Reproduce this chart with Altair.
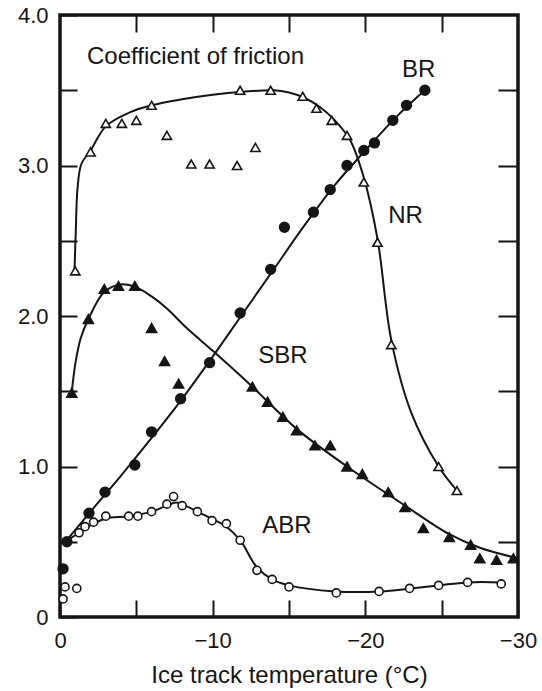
import altair as alt
import pandas as pd

# ---------------- data ----------------
# NR (open triangles)
nr_t = [-1.0, -2.0, -3.0, -4.05, -5.0, -6.0, -7.0, -8.6, -9.8, -11.6, -12.8,
        -11.8, -13.8, -15.9, -16.8, -17.8, -18.8, -19.9, -20.8, -21.7, -24.8, -26.0]
nr_mu = [2.30, 3.09, 3.28, 3.28, 3.30, 3.40, 3.20, 3.01, 3.01, 3.00, 3.12,
         3.50, 3.50, 3.46, 3.38, 3.30, 3.20, 2.89, 2.49, 1.81, 1.00, 0.84]
nr_curve_t = [-0.95, -1.03, -1.15, -1.4, -2.0, -3.0, -4.5, -6.0, -8.0, -10.0, -12.0,
              -14.0, -15.0, -16.0, -17.0, -18.0, -19.0, -19.9, -20.8, -21.7, -23.0,
              -24.8, -26.0]
nr_curve_mu = [2.30, 2.55, 2.85, 3.01, 3.10, 3.26, 3.35, 3.40, 3.44, 3.47, 3.49,
               3.50, 3.485, 3.45, 3.39, 3.30, 3.17, 2.92, 2.51, 1.84, 1.36,
               1.00, 0.84]

# BR (filled circles)
br_t = [-0.2, -0.45, -1.9, -2.95, -4.9, -6.0, -7.9, -9.8, -11.8, -13.8, -14.7,
        -16.6, -17.7, -18.8, -19.9, -20.6, -21.8, -22.7, -23.9]
br_mu = [0.32, 0.50, 0.69, 0.83, 1.01, 1.23, 1.45, 1.69, 2.02, 2.31, 2.59,
         2.69, 2.84, 3.00, 3.10, 3.15, 3.30, 3.40, 3.50]
br_curve_t = [-0.2, -2.0, -4.0, -6.0, -8.0, -10.0, -12.0, -14.0, -16.0, -18.0,
              -20.0, -22.0, -24.0]
br_curve_mu = [0.48, 0.70, 0.94, 1.19, 1.45, 1.73, 2.02, 2.31, 2.60, 2.87,
               3.10, 3.32, 3.51]

# SBR (filled triangles)
sbr_t = [-0.77, -1.86, -2.9, -3.83, -4.9, -6.0, -6.85, -7.77, -12.6, -13.6, -14.6,
         -15.5, -16.7, -17.7, -18.8, -19.8, -21.5, -22.6, -23.8, -25.5, -26.9,
         -27.5, -28.6, -29.7]
sbr_mu = [1.49, 1.98, 2.18, 2.20, 2.20, 1.92, 1.70, 1.55, 1.53, 1.43, 1.33,
          1.24, 1.14, 1.14, 1.00, 0.95, 0.83, 0.73, 0.59, 0.53, 0.48,
          0.39, 0.38, 0.39]
sbr_curve_t = [-0.77, -1.0, -1.35, -1.86, -2.9, -4.0, -5.0, -6.0, -7.0, -8.3, -10.1,
               -12.6, -15.5, -18.8, -22.6, -25.5, -27.5, -30.0]
sbr_curve_mu = [1.49, 1.68, 1.85, 1.98, 2.16, 2.21, 2.19, 2.13, 2.05, 1.92, 1.76,
                1.53, 1.25, 1.00, 0.74, 0.55, 0.46, 0.39]

# ABR (open circles)
abr_t = [-0.2, -0.33, -1.1, -1.25, -1.64, -2.2, -3.0, -4.5, -5.1, -6.0, -7.0, -7.44,
         -8.0, -9.0, -9.96, -10.9, -11.8, -12.9, -13.9, -15.0, -18.1, -20.9, -22.9,
         -24.8, -26.7, -28.9]
abr_mu = [0.12, 0.20, 0.19, 0.56, 0.60, 0.63, 0.67, 0.67, 0.67, 0.70, 0.75, 0.80,
          0.74, 0.70, 0.64, 0.62, 0.51, 0.31, 0.25, 0.20, 0.16, 0.17, 0.19,
          0.21, 0.23, 0.22]
abr_curve_t = [-0.2, -1.25, -2.2, -3.0, -4.5, -6.0, -7.0, -7.6, -8.2, -9.0, -10.0,
               -10.9, -11.8, -12.9, -13.9, -15.0, -18.0, -21.0, -23.0, -24.8, -26.7, -28.9]
abr_curve_mu = [0.49, 0.56, 0.62, 0.655, 0.67, 0.70, 0.74, 0.76, 0.74, 0.70, 0.65,
                0.60, 0.51, 0.33, 0.25, 0.21, 0.17, 0.17, 0.19, 0.21, 0.23, 0.23]

# annotations
title_text = ["Coefficient of friction"]
title_t = [-1.77]
title_mu = [3.674]
series_text = ["BR", "NR", "SBR", "ABR"]
series_t = [-23.5, -22.63, -14.6, -14.87]
series_mu = [3.588, 2.618, 1.688, 0.558]

x_ticks = [0, -5, -10, -15, -20, -25, -30]
y_ticks = [0, 0.5, 1.0, 1.5, 2.0, 2.5, 3.0, 3.5, 4.0]
x_mirror_ticks = [-5, -10, -15, -20, -25]
y_mirror_ticks = [0.5, 1.0, 1.5, 2.0, 2.5, 3.0, 3.5]

# ---------------- build ----------------
FONT = "Liberation Sans"
INK = "#151515"

curves = pd.concat([
    pd.DataFrame({"t": nr_curve_t, "mu": nr_curve_mu, "series": "NR"}),
    pd.DataFrame({"t": br_curve_t, "mu": br_curve_mu, "series": "BR"}),
    pd.DataFrame({"t": sbr_curve_t, "mu": sbr_curve_mu, "series": "SBR"}),
    pd.DataFrame({"t": abr_curve_t, "mu": abr_curve_mu, "series": "ABR"}),
], ignore_index=True)
curves["ord"] = -curves["t"]

nr = pd.DataFrame({"t": nr_t, "mu": nr_mu})
br = pd.DataFrame({"t": br_t, "mu": br_mu})
sbr = pd.DataFrame({"t": sbr_t, "mu": sbr_mu})
abr = pd.DataFrame({"t": abr_t, "mu": abr_mu})
title_df = pd.DataFrame({"text": title_text, "t": title_t, "mu": title_mu})
series_df = pd.DataFrame({"text": series_text, "t": series_t, "mu": series_mu})

XS = alt.Scale(domain=[-30, 0], reverse=True, nice=False, zero=False)
YS = alt.Scale(domain=[0, 4], nice=False, zero=False)

TICK = 17

x_axis = alt.Axis(orient="bottom", values=x_ticks,
                  labelExpr="datum.value == 0 ? '0' : (datum.value % 10 == 0 ? '\u2212' + format(-datum.value, 'd') : '')",
                  tickSize=TICK, offset=-TICK, domain=False, grid=False,
                  tickColor=INK, tickWidth=2, labelPadding=13,
                  labelFont=FONT, labelFontSize=22, labelColor=INK,
                  labelFlush=False, labelOverlap=False,
                  title="Ice track temperature (\u00b0C)", titleFont=FONT,
                  titleFontSize=24, titleFontWeight="normal", titleColor=INK,
                  titlePadding=12)
y_axis = alt.Axis(orient="left", values=y_ticks,
                  labelExpr="datum.value == 0 ? '0' : (datum.value % 1 == 0 ? format(datum.value, '.1f') : '')",
                  tickSize=TICK, offset=-TICK, domain=False, grid=False,
                  tickColor=INK, tickWidth=2, labelPadding=12,
                  labelFont=FONT, labelFontSize=22, labelColor=INK,
                  labelFlush=False, labelOverlap=False, title=None)
x_axis_top = alt.Axis(orient="top", values=x_mirror_ticks, labels=False,
                      tickSize=TICK, offset=-TICK, domain=False, grid=False,
                      tickColor=INK, tickWidth=2, title=None)
y_axis_right = alt.Axis(orient="right", values=y_mirror_ticks, labels=False,
                        tickSize=20, offset=-20, domain=False, grid=False,
                        tickColor=INK, tickWidth=2, title=None)

lines = alt.Chart(curves).mark_line(interpolate="catmull-rom", strokeWidth=2, color=INK).encode(
    x=alt.X("t:Q", scale=XS, axis=x_axis),
    y=alt.Y("mu:Q", scale=YS, axis=y_axis),
    detail="series:N",
    order="ord:Q",
)

def pts(df, shape, filled, size):
    return alt.Chart(df).mark_point(
        shape=shape, filled=True, size=size,
        fill=INK if filled else "white", stroke=INK, strokeWidth=1.6, opacity=1,
    ).encode(
        x=alt.X("t:Q", scale=XS, axis=None),
        y=alt.Y("mu:Q", scale=YS, axis=None),
    )

nr_pts = pts(nr, "triangle-up", False, 85)
br_pts = pts(br, "circle", True, 95)
sbr_pts = pts(sbr, "triangle-up", True, 100)
abr_pts = pts(abr, "circle", False, 65)

def txt(df, align):
    return alt.Chart(df).mark_text(font=FONT, fontSize=24, color=INK,
                                   baseline="alphabetic", align=align).encode(
        x=alt.X("t:Q", scale=XS, axis=None),
        y=alt.Y("mu:Q", scale=YS, axis=None),
        text="text:N",
    )

title_layer = txt(title_df, "left")
series_layer = txt(series_df, "center")

mirror = alt.Chart(nr).mark_point(opacity=0).encode(
    x=alt.X("t:Q", scale=XS, axis=x_axis_top),
    y=alt.Y("mu:Q", scale=YS, axis=y_axis_right),
)

chart = alt.layer(lines, nr_pts, br_pts, sbr_pts, abr_pts, title_layer, series_layer,
                  mirror).resolve_axis(
    x="independent", y="independent"
).properties(
    width=458, height=602,
    background="white",
    padding={"left": 60, "top": 15, "right": 24, "bottom": 74},
    autosize=alt.AutoSizeParams(type="none"),
).configure_view(stroke=INK, strokeWidth=3.5)

chart.save("out.html", embed_options={"renderer": "svg", "actions": False})
